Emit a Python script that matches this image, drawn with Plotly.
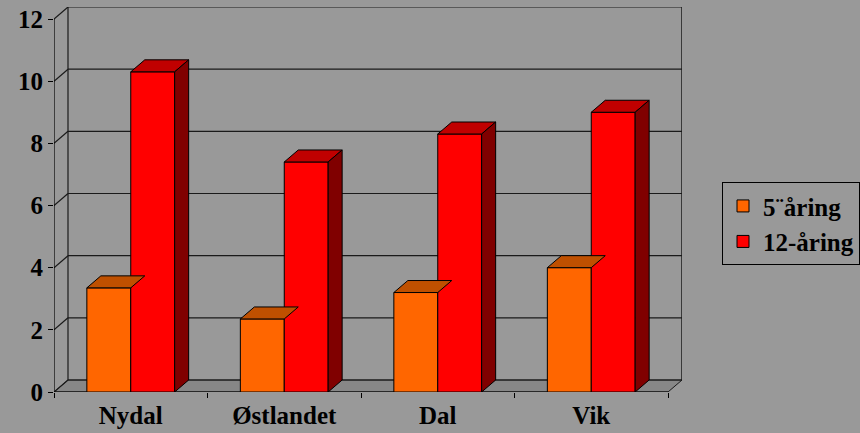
import plotly.graph_objects as go

categories = ["Nydal", "Østlandet", "Dal", "Vik"]
series_names = ["5¨åring", "12-åring"]
values_5 = [3.35, 2.35, 3.2, 4.0]
values_12 = [10.3, 7.4, 8.3, 9.0]
y_ticks = [0, 2, 4, 6, 8, 10, 12]

front_colors = ["#FF6600", "#FF0000"]
top_colors = ["#BF5000", "#C00000"]
side_colors = ["#803300", "#800000"]

BG = "#999999"
FLOOR = "#878787"
GRID = "#1a1a1a"
FONT = dict(family="Liberation Serif", size=25, color="black", weight="bold")
XFONT = dict(family="Liberation Serif", size=25, color="black", weight="bold")
LEGEND_FONT = dict(family="Liberation Serif", size=25, color="black", weight="bold")

# geometry in data units
W = 0.286          # bar width
DX = 0.0912        # depth offset in x
DY = 0.386         # depth offset in y
NCAT = len(categories)
YMAX = 12

fig = go.Figure()
centers = [i + 0.5 for i in range(NCAT)]

shapes = []
# floor
shapes.append(dict(type="path", xref="x", yref="y", layer="below",
                   path=f"M0,0 L{NCAT},0 L{NCAT+DX},{DY} L{DX},{DY} Z",
                   fillcolor=FLOOR, line=dict(color=GRID, width=1)))
# back wall gridlines and left-wall diagonals
for v in y_ticks:
    shapes.append(dict(type="line", xref="x", yref="y", layer="below",
                       x0=DX, x1=NCAT + DX, y0=v + DY, y1=v + DY,
                       line=dict(color=GRID, width=1.2)))
    shapes.append(dict(type="line", xref="x", yref="y", layer="below",
                       x0=0, x1=DX, y0=v, y1=v + DY,
                       line=dict(color=GRID, width=1.2)))
# back wall verticals
shapes.append(dict(type="line", xref="x", yref="y", layer="below",
                   x0=DX, x1=DX, y0=DY, y1=YMAX + DY, line=dict(color=GRID, width=1.2)))
shapes.append(dict(type="line", xref="x", yref="y", layer="below",
                   x0=NCAT + DX, x1=NCAT + DX, y0=DY, y1=YMAX + DY, line=dict(color=GRID, width=1.5)))
# front value axis line and front floor edge
shapes.append(dict(type="line", xref="x", yref="y", layer="above",
                   x0=0, x1=0, y0=0, y1=YMAX, line=dict(color="black", width=1.2)))
shapes.append(dict(type="line", xref="x", yref="y", layer="below",
                   x0=0, x1=NCAT, y0=0, y1=0, line=dict(color="black", width=1.2)))
fig.update_layout(shapes=shapes)

all_vals = [values_5, values_12]
offsets = [-W, 0.0]

# 3D faces (top for all, side for the rear-most visible series)
for s, vals in enumerate(all_vals):
    for c, v in zip(centers, vals):
        x0 = c + offsets[s]
        x1 = x0 + W
        fig.add_trace(go.Scatter(
            x=[x0, x1, x1 + DX, x0 + DX, x0], y=[v, v, v + DY, v + DY, v],
            mode="lines", fill="toself", fillcolor=top_colors[s],
            line=dict(color="black", width=1), showlegend=False, hoverinfo="skip"))
        if s == len(all_vals) - 1:
            fig.add_trace(go.Scatter(
                x=[x1, x1 + DX, x1 + DX, x1, x1], y=[0, DY, v + DY, v, 0],
                mode="lines", fill="toself", fillcolor=side_colors[s],
                line=dict(color="black", width=1), showlegend=False, hoverinfo="skip"))

# front faces
for s, vals in enumerate(all_vals):
    fig.add_trace(go.Bar(
        x=centers, y=vals, width=W, offset=offsets[s], name=f"<b>{series_names[s]}</b>",
        marker=dict(color=front_colors[s], line=dict(color="black", width=1))))

fig.update_layout(
    width=860, height=433,
    margin=dict(l=54, r=178, t=7, b=41, autoexpand=False),
    paper_bgcolor=BG, plot_bgcolor=BG,
    barmode="overlay",
    font=FONT,
    showlegend=True,
    legend=dict(x=1.0637, y=0.545, xanchor="left", yanchor="top",
                bgcolor=BG, bordercolor="black", borderwidth=1,
                font=LEGEND_FONT, itemwidth=30, tracegroupgap=0),
    xaxis=dict(range=[0, NCAT + DX], showgrid=False, zeroline=False, showline=False,
               tickvals=centers, ticktext=categories, ticks="", automargin=False,
               ticklabelstandoff=6,
               minor=dict(tickvals=list(range(NCAT + 1)), ticks="outside", ticklen=5,
                          tickcolor="black", tickwidth=1),
               tickfont=XFONT, fixedrange=True),
    yaxis=dict(range=[0, YMAX + DY], showgrid=False, zeroline=False, showline=False,
               tickvals=y_ticks, ticks="outside", ticklen=5, tickcolor="black",
               tickwidth=1, tickfont=FONT, fixedrange=True, automargin=False),
)

fig.write_html("out.html", config={"displayModeBar": False},
               post_script="document.body.style.margin='0';document.body.style.overflow='hidden';")
